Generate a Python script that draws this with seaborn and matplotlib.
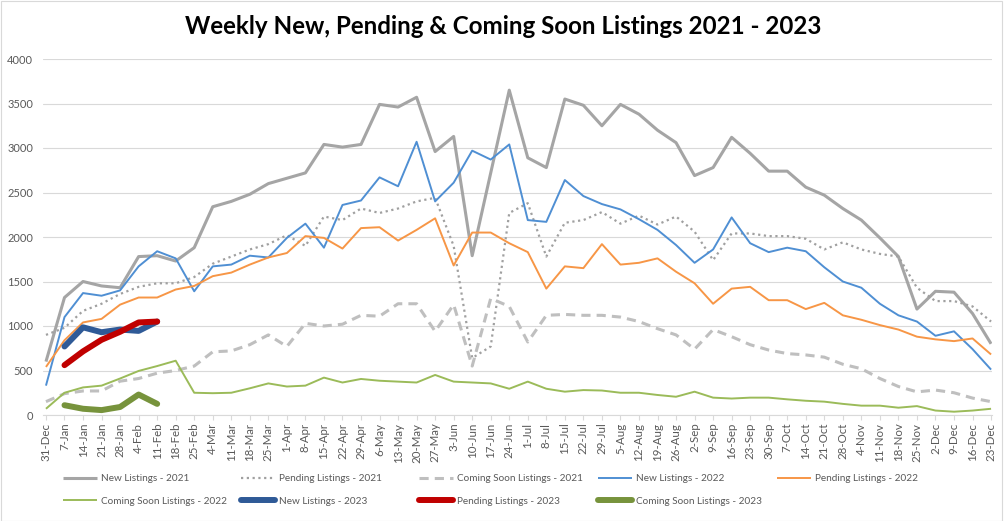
import seaborn as sns
import matplotlib.pyplot as plt
from matplotlib.patches import Rectangle

weeks = [
    "31-Dec", "7-Jan", "14-Jan", "21-Jan", "28-Jan", "4-Feb", "11-Feb", "18-Feb", "25-Feb",
    "4-Mar", "11-Mar", "18-Mar", "25-Mar", "1-Apr", "8-Apr", "15-Apr", "22-Apr", "29-Apr",
    "6-May", "13-May", "20-May", "27-May", "3-Jun", "10-Jun", "17-Jun", "24-Jun", "1-Jul",
    "8-Jul", "15-Jul", "22-Jul", "29-Jul", "5-Aug", "12-Aug", "19-Aug", "26-Aug", "2-Sep",
    "9-Sep", "16-Sep", "23-Sep", "30-Sep", "7-Oct", "14-Oct", "21-Oct", "28-Oct", "4-Nov",
    "11-Nov", "18-Nov", "25-Nov", "2-Dec", "9-Dec", "16-Dec", "23-Dec",
]

new_2021 = [600, 1320, 1500, 1450, 1430, 1780, 1790, 1730, 1880, 2340, 2400, 2480, 2600,
            2660, 2720, 3040, 3010, 3040, 3490, 3460, 3570, 2960, 3130, 1790, 2720, 3650,
            2890, 2780, 3550, 3480, 3250, 3490, 3380, 3200, 3060, 2690, 2780, 3120, 2940,
            2740, 2740, 2560, 2470, 2320, 2190, 1990, 1780, 1190, 1390, 1380, 1140, 800]
pending_2021 = [900, 980, 1170, 1250, 1360, 1440, 1480, 1480, 1550, 1700, 1780, 1860, 1920,
                2020, 1900, 2230, 2190, 2320, 2270, 2320, 2400, 2440, 1900, 640, 770, 2270,
                2380, 1780, 2160, 2190, 2280, 2150, 2240, 2140, 2230, 2060, 1740, 2040, 2040,
                2010, 2010, 1980, 1860, 1940, 1860, 1810, 1780, 1430, 1280, 1280, 1220, 1050]
soon_2021 = [150, 240, 270, 270, 380, 410, 470, 500, 550, 710, 720, 790, 900, 770, 1030,
             1000, 1020, 1120, 1110, 1250, 1250, 940, 1240, 550, 1310, 1220, 820, 1120, 1130,
             1120, 1120, 1100, 1050, 970, 900, 740, 960, 880, 790, 730, 690, 675, 650, 570,
             520, 410, 320, 260, 280, 250, 190, 150]
new_2022 = [330, 1100, 1370, 1340, 1400, 1670, 1840, 1760, 1390, 1670, 1690, 1790, 1770,
            1990, 2150, 1880, 2360, 2410, 2670, 2570, 3070, 2400, 2610, 2970, 2870, 3040,
            2190, 2170, 2640, 2460, 2370, 2310, 2200, 2080, 1910, 1710, 1860, 2220, 1930,
            1830, 1880, 1840, 1660, 1500, 1430, 1250, 1120, 1050, 890, 940, 740, 510]
pending_2022 = [540, 840, 1040, 1080, 1240, 1320, 1320, 1410, 1450, 1560, 1600, 1690, 1770,
                1820, 2010, 1990, 1870, 2100, 2110, 1960, 2080, 2210, 1680, 2050, 2050, 1930,
                1830, 1420, 1670, 1650, 1920, 1690, 1710, 1760, 1610, 1480, 1250, 1420, 1440,
                1290, 1290, 1190, 1260, 1120, 1070, 1010, 960, 880, 850, 830, 860, 680]
soon_2022 = [70, 250, 310, 330, 410, 495, 550, 610, 250, 245, 250, 300, 355, 320, 330, 420,
             365, 405, 385, 375, 365, 450, 375, 365, 355, 295, 375, 295, 262, 280, 275, 250,
             250, 225, 205, 262, 195, 185, 195, 195, 176, 160, 150, 125, 105, 105, 82, 100,
             50, 37, 50, 70]
weeks_2023 = weeks[1:7]
new_2023 = [770, 985, 930, 960, 945, 1050]
pending_2023 = [560, 715, 845, 935, 1040, 1050]
soon_2023 = [110, 70, 55, 90, 230, 125]

series = [
    ("New Listings - 2021", weeks, new_2021, "#A5A5A5", 2.2, "-"),
    ("Pending Listings - 2021", weeks, pending_2021, "#A0A0A0", 1.6, (0, (1, 1.6))),
    ("Coming Soon Listings - 2021", weeks, soon_2021, "#BFBFBF", 2.2, (0, (3, 2))),
    ("New Listings - 2022", weeks, new_2022, "#4F8FD3", 1.4, "-"),
    ("Pending Listings - 2022", weeks, pending_2022, "#F79646", 1.4, "-"),
    ("Coming Soon Listings - 2022", weeks, soon_2022, "#9BBB59", 1.4, "-"),
    ("New Listings - 2023", weeks_2023, new_2023, "#2F5A97", 4.3, "-"),
    ("Pending Listings - 2023", weeks_2023, pending_2023, "#C00000", 4.3, "-"),
    ("Coming Soon Listings - 2023", weeks_2023, soon_2023, "#77933C", 4.3, "-"),
]

sns.set_theme(style="white")
plt.rcParams["font.family"] = ["Lato", "DejaVu Sans"]

W, H = 1007, 521
fig = plt.figure(figsize=(W / 100, H / 100), dpi=100)
ax = fig.add_axes([43 / W, 106 / H, 949 / W, 356 / H])

pos = {w: i for i, w in enumerate(weeks)}
handles = []
for label, wk, vals, color, lw, ls in series:
    sns.lineplot(x=[pos[w] for w in wk], y=vals, ax=ax, color=color, linewidth=lw, label=label)
    line = ax.lines[-1]
    line.set_linestyle(ls)
    line.set_solid_joinstyle("round")
    line.set_solid_capstyle("round" if lw > 3 else "butt")
    handles.append(line)
if ax.get_legend() is not None:
    ax.get_legend().remove()

ax.set_xlim(-0.16, 51.05)
ax.set_ylim(0, 4000)
ax.set_yticks(range(0, 4001, 500))
ax.set_xticks(range(len(weeks)))
ax.set_xticklabels(weeks, rotation=90)
ax.set_xlabel("")
ax.set_ylabel("")
ax.grid(axis="y", color="#D9D9D9", linewidth=0.8)
ax.set_axisbelow(True)
for side in ["top", "right", "left"]:
    ax.spines[side].set_visible(False)
ax.spines["bottom"].set_color("#D9D9D9")
ax.spines["bottom"].set_linewidth(0.8)
ax.tick_params(axis="y", length=0, pad=7, labelsize=8, labelcolor="#595959")
ax.tick_params(axis="x", length=3.5, width=0.8, color="#D9D9D9", pad=2,
               labelsize=8.3, labelcolor="#595959", bottom=True)

fig.text(0.5, 1 - 27 / H, "Weekly New, Pending & Coming Soon Listings 2021 - 2023",
         ha="center", va="center", fontsize=17.4, fontweight="bold", color="black")

# Excel-style legend: equal-width columns, filled row by row
col_x = [63, 241, 419, 598, 777]
for j, x0 in enumerate(col_x):
    col = [handles[k] for k in (j, j + 5) if k < len(handles)]
    fig.legend(handles=col, labels=[h.get_label() for h in col], loc="upper left",
               bbox_to_anchor=(x0 / W, 1 - 474 / H), frameon=False, borderpad=0,
               borderaxespad=0, handlelength=3.4, handletextpad=0.4, labelspacing=1.35,
               fontsize=7.2, labelcolor="#595959")

fig.add_artist(Rectangle((0.5 / W, 0.5 / H), 1001.5 / W, 519.5 / H, transform=fig.transFigure,
                         fill=False, edgecolor="#D9D9D9", linewidth=0.8))

fig.savefig("out.png", dpi=100, facecolor="white")
